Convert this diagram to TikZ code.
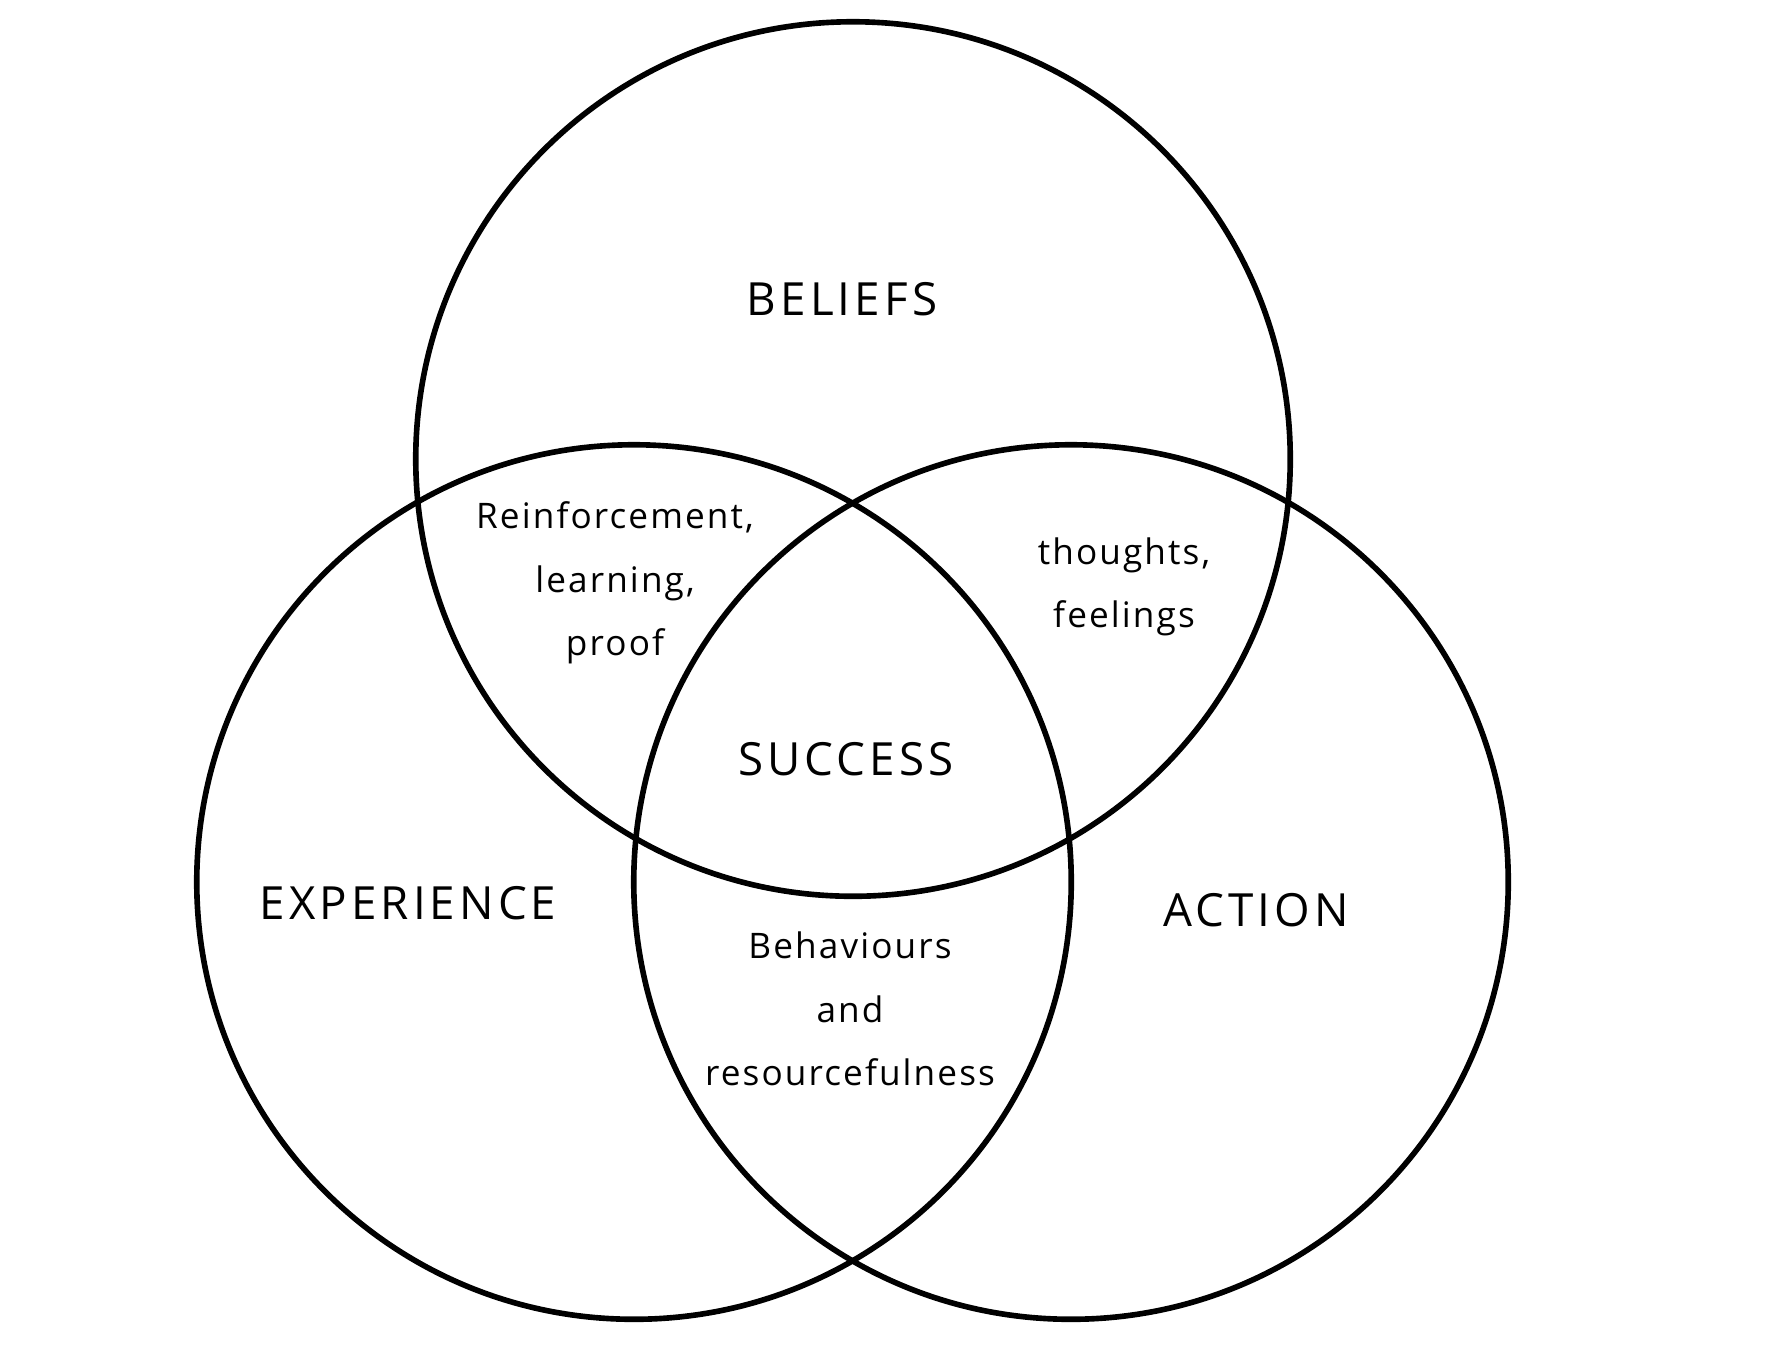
\documentclass[tikz,border=0pt]{standalone}
\usepackage{fontspec}
\setmainfont{Open Sans}
\newfontfamily\vennhead[LetterSpace=9]{Open Sans}
\newfontfamily\vennbody[LetterSpace=6]{Open Sans}
\usepackage{tikz}
\usetikzlibrary{positioning}
\tikzset{
  venn/set/.style={draw, circle, line width=1.6pt, minimum size=8.74cm, inner sep=0pt},
  venn/title/.style={font=\vennhead\fontsize{13}{15}\selectfont, inner sep=1pt},
  venn/label/.style={font=\vennbody\fontsize{10}{18}\selectfont, align=center, inner sep=1pt}
}

\begin{document}
\begin{tikzpicture}[x=0.01cm, y=-0.01cm]
  \useasboundingbox (0,0) rectangle (1792,1344);
  % the three sets
  \node[venn/set] (beliefs) at (853,459) {};
  \node[venn/set] (experience) at (634,882) {};
  \node[venn/set] (action) at (1071,882) {};

  % set names
  \node[venn/title] (tbeliefs) at (842,299) {BELIEFS};
  \node[venn/title] (texperience) at (408,903) {EXPERIENCE};
  \node[venn/title] (taction) at (1256,910) {ACTION};
  \node[venn/title] (tsuccess) at (846,759) {SUCCESS};

  % overlaps
  \node[venn/label] (reinf) at (615,583) {Reinforcement,\\learning,\\proof};
  \node[venn/label] (thoughts) at (1124,587) {thoughts,\\feelings};
  \node[venn/label] (behav) at (850,1009) {Behaviours\\and\\resourcefulness};
\end{tikzpicture}
\end{document}
